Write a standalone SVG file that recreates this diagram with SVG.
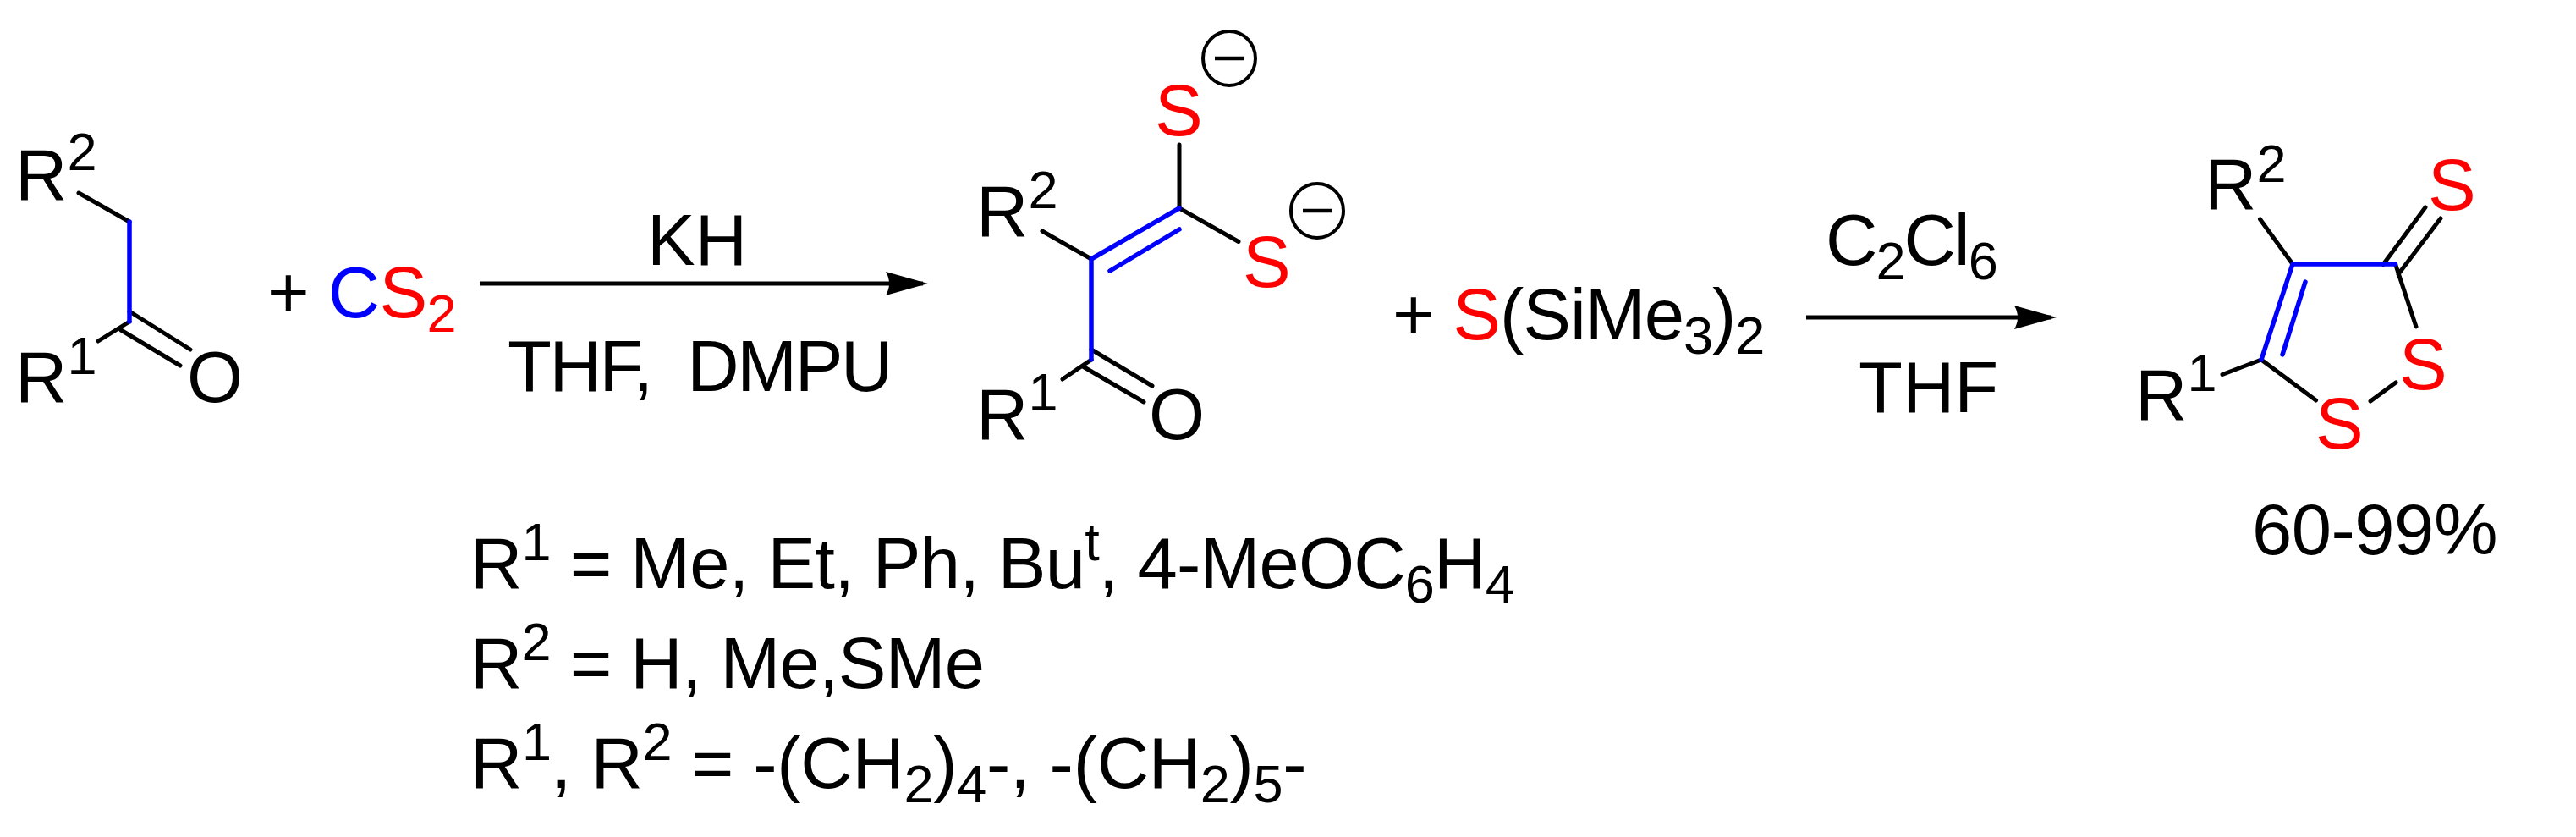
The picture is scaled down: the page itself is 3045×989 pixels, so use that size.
<svg xmlns="http://www.w3.org/2000/svg" width="3045" height="989" viewBox="0 0 3045 989">
<style>
text{font-family:"Liberation Sans",Arial,sans-serif;font-size:85px;fill:#000;white-space:pre}
.s{font-size:63px}
.r{fill:#f00}
.c{fill:#00f}
.b{stroke:#000;stroke-width:5px;stroke-linecap:round;fill:none}
.u{stroke:#00f;stroke-width:5.5px;stroke-linecap:round;fill:none}
.a{stroke:#000;stroke-width:5px;fill:none}
</style>
<defs>
<marker id="head" markerUnits="userSpaceOnUse" markerWidth="60" markerHeight="32" refX="44" refY="14" orient="auto" viewBox="0 0 60 32">
<path d="M0 0L50 14L0 28Q8 14 0 0Z" fill="#000"/>
</marker>
<g id="minus"><ellipse cx="0" cy="0" rx="31" ry="32" fill="none" stroke="#000" stroke-width="4"/><path d="M-17 0H17" stroke="#000" stroke-width="4.500"/></g>
</defs>
<rect width="3045" height="989" fill="#fff"/>
<g id="ketone">
<path class="b" d="M93 228L153 262M153 368L225 413M143 390L213 432M153 380L116 403"/>
<path class="u" d="M153 262V380"/>
<text x="18" y="236">R<tspan class="s" dy="-35">2</tspan></text>
<text x="18" y="475">R<tspan class="s" dy="-33">1</tspan></text>
<text x="221" y="475">O</text>
</g>
<g id="cs2">
<text x="316" y="375" letter-spacing="-0.7">+ <tspan class="c">C</tspan><tspan class="r">S</tspan><tspan class="r s" dy="17">2</tspan></text>
</g>
<g id="dithiolate">
<path class="b" d="M1394 171V246M1394 246L1464 285.5M1232 273L1290 306M1290 413L1362 456M1280 433L1352 475M1290 425L1256 448"/>
<path class="u" d="M1394 246L1290 306M1394 271L1312 320M1290 306V425"/>
<text class="r" x="1365" y="160">S</text>
<text class="r" x="1469" y="339">S</text>
<use href="#minus" x="1453" y="69"/>
<use href="#minus" x="1557" y="249"/>
<text x="1154" y="279">R<tspan class="s" dy="-33">2</tspan></text>
<text x="1154" y="519">R<tspan class="s" dy="-34">1</tspan></text>
<text x="1358" y="519">O</text>
</g>
<g id="silyl-sulfide">
<text x="1646" y="401" letter-spacing="-1">+ <tspan class="r">S</tspan>(SiMe<tspan class="s" dy="17">3</tspan><tspan dy="-17">)</tspan><tspan class="s" dy="17">2</tspan></text>
</g>
<g id="dithiolethione">
<path class="b" d="M2671.5 259L2710 312M2817 312.500L2867 245M2835 324L2885 258M2831.500 312L2856 386M2673 425L2627 442.500M2673 425L2737.600 473M2802 474L2832 452"/>
<path class="u" d="M2710 312H2831.500M2710 312L2673 425M2725 333L2698 419"/>
<text x="2606" y="247">R<tspan class="s" dy="-32">2</tspan></text>
<text x="2524" y="496">R<tspan class="s" dy="-34">1</tspan></text>
<text class="r" x="2870" y="248">S</text>
<text class="r" x="2836" y="460">S</text>
<text class="r" x="2737" y="530">S</text>
</g>
<g id="connectors">
<path class="a" d="M567 335H1091" marker-end="url(#head)"/>
<path class="a" d="M2135 375H2425" marker-end="url(#head)"/>
</g>
<g id="conditions">
<text x="765" y="313">KH</text>
<text x="600" y="462" letter-spacing="-2.400">THF,  DMPU</text>
<text x="2158" y="313" letter-spacing="-2">C<tspan class="s" dy="17">2</tspan><tspan dy="-17">Cl</tspan><tspan class="s" dy="17">6</tspan></text>
<text x="2197" y="487">THF</text>
</g>
<g id="yield">
<text x="2662" y="655" letter-spacing="-0.5">60-99%</text>
</g>
<g id="substituents">
<text x="556" y="695" letter-spacing="-0.8">R<tspan class="s" dy="-33">1</tspan><tspan dy="33"> = Me, Et, Ph, Bu</tspan><tspan class="s" dy="-33">t</tspan><tspan dy="33">, 4-MeOC</tspan><tspan class="s" dy="17">6</tspan><tspan dy="-17">H</tspan><tspan class="s" dy="17">4</tspan></text>
<text x="556" y="813" letter-spacing="-0.8">R<tspan class="s" dy="-33">2</tspan><tspan dy="33"> = H, Me,SMe</tspan></text>
<text x="556" y="931" letter-spacing="-0.3">R<tspan class="s" dy="-33">1</tspan><tspan dy="33">, R</tspan><tspan class="s" dy="-33">2</tspan><tspan dy="33"> = -(CH</tspan><tspan class="s" dy="17">2</tspan><tspan dy="-17">)</tspan><tspan class="s" dy="17">4</tspan><tspan dy="-17">-, -(CH</tspan><tspan class="s" dy="17">2</tspan><tspan dy="-17">)</tspan><tspan class="s" dy="17">5</tspan><tspan dy="-17">-</tspan></text>
</g>
</svg>
